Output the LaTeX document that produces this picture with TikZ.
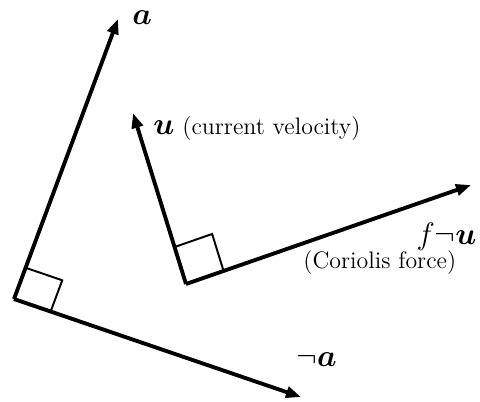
\documentclass[tikz,border=0pt]{standalone}
\usepackage{bm}
\usetikzlibrary{arrows.meta,calc}
\begin{document}
\begin{tikzpicture}[x=0.465pt,y=-0.465pt,
  vec/.style={line width=1.8pt,-{Triangle[length=7pt,width=5.2pt]}},
  rightangle/.style={line width=0.9pt},
  lbl/.style={inner sep=0pt,font=\fontsize{11.1}{13}\selectfont},
  mlbl/.style={inner sep=0pt,font=\fontsize{13.5}{16}\selectfont}]
\useasboundingbox (0,0) rectangle (480,401);
% left pair
\coordinate (O1) at (14,299);
\coordinate (A) at (118,19);
\coordinate (NA) at (301,397);
% right pair
\coordinate (O2) at (186,284);
\coordinate (U) at (133,113);
\coordinate (F) at (471,185);
% right-angle marks
\coordinate (a1) at ($(O1)!15.5pt!(A)$);
\coordinate (a2) at ($(O1)!18pt!(NA)$);
\coordinate (b1) at ($(O2)!18pt!(U)$);
\coordinate (b2) at ($(O2)!18.5pt!(F)$);
\draw[rightangle] (a1) -- ($(a1)+(a2)-(O1)$) -- (a2);
\draw[rightangle] (b1) -- ($(b1)+(b2)-(O2)$) -- (b2);
% vectors
\draw[vec] (O1) -- (A);
\draw[vec] (O1) -- (NA);
\draw[vec] (O2) -- (U);
\draw[vec] (O2) -- (F);
% labels
\node[mlbl,anchor=base west] (la) at (132,24) {$\bm{a}$};
\node[mlbl,anchor=base west] (lu) at (153,134) {$\bm{u}$};
\node[lbl,anchor=base west] (lcv) at (182,134) {(current velocity)};
\node[mlbl,anchor=base east] (lf) at (477,244) {$f\neg\bm{u}$};
\node[lbl,anchor=base west] (lc) at (303,268) {(Coriolis force)};
\node[mlbl,anchor=base west] (lna) at (296,366) {$\neg\bm{a}$};
\end{tikzpicture}
\end{document}
